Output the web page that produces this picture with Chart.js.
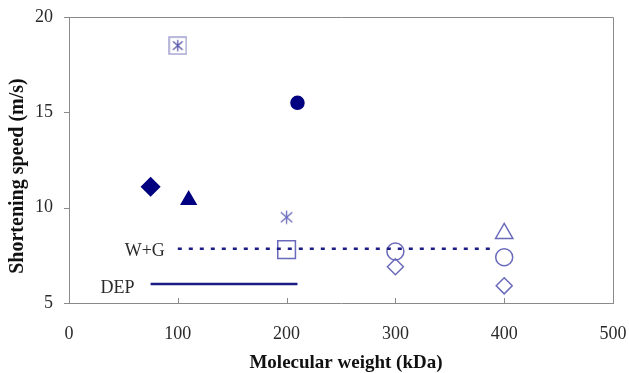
<!DOCTYPE html>
<html>
<head>
<meta charset="utf-8">
<script src="https://cdn.jsdelivr.net/npm/chart.js@4/dist/chart.umd.min.js"></script>
<style>
  html, body { margin: 0; padding: 0; background: #fff; }
  #wrap { width: 629px; height: 373px; position: relative; }
</style>
</head>
<body>
<div id="wrap"><canvas id="chart"></canvas></div>
<script>
// values
const weights = [75, 110, 210, 100, 200, 200, 300, 300, 400, 400, 400]   // kDa
const speeds  = [11.1, 10.4, 15.5, 18.5, 9.5, 7.8, 7.7, 6.9, 8.65, 7.4, 5.9] // m/s

const wgRange = [100, 392]
const wgSpeed = 7.85
const depRange = [75, 210]
const depSpeed = 6.0

const xTicks = [0, 100, 200, 300, 400, 500]
const yTicks = [5, 10, 15, 20]

const xTitle = 'Molecular weight (kDa)'
const yTitle = 'Shortening speed (m/s)'

const SERIF = '"Liberation Serif", "Times New Roman", serif'
const NAVY = '#000080'
const LIGHT = '#6a6abb'
const AXIS = '#8a8a8a'

// little custom markers (excel asterisk, and asterisk in a box)
function asteriskMarker(size, color, boxColor) {
  var c = document.createElement('canvas')
  c.width = size; c.height = size
  var g = c.getContext('2d')
  var m = size / 2, a = boxColor ? size * 0.3 : size * 0.45
  if (boxColor) {
    g.strokeStyle = boxColor
    g.lineWidth = 1.5
    g.strokeRect(1, 1, size - 2, size - 2)
  }
  g.strokeStyle = color
  g.lineWidth = 1.3
  g.beginPath()
  g.moveTo(m, m - a); g.lineTo(m, m + a)
  g.moveTo(m - a * 0.85, m - a * 0.75); g.lineTo(m + a * 0.85, m + a * 0.75)
  g.moveTo(m + a * 0.85, m - a * 0.75); g.lineTo(m - a * 0.85, m + a * 0.75)
  g.stroke()
  return c
}

var markerStyles = [
  { pointStyle: 'rectRot', radius: 9, fill: NAVY, border: NAVY },
  { pointStyle: 'triangle', radius: 8.5, fill: NAVY, border: NAVY },
  { pointStyle: 'circle', radius: 6.5, fill: NAVY, border: NAVY },
  { pointStyle: asteriskMarker(19, '#5a5aaa', '#a4a4d2'), radius: 10 },
  { pointStyle: asteriskMarker(15, LIGHT), radius: 8 },
  { pointStyle: 'rect', radius: 12.5, fill: 'rgba(0,0,0,0)', border: LIGHT },
  { pointStyle: 'circle', radius: 8.5, fill: 'rgba(0,0,0,0)', border: LIGHT },
  { pointStyle: 'rectRot', radius: 8, fill: 'rgba(0,0,0,0)', border: LIGHT },
  { pointStyle: 'triangle', radius: 10, fill: 'rgba(0,0,0,0)', border: LIGHT },
  { pointStyle: 'circle', radius: 8.5, fill: 'rgba(0,0,0,0)', border: LIGHT },
  { pointStyle: 'rectRot', radius: 8, fill: 'rgba(0,0,0,0)', border: LIGHT },
]

var datasets = weights.map((w, i) => {
  var s = markerStyles[i]
  return {
    label: 'p' + i,
    data: [{ x: w, y: speeds[i] }],
    pointStyle: s.pointStyle,
    pointRadius: s.radius,
    pointBackgroundColor: s.fill || LIGHT,
    pointBorderColor: s.border || LIGHT,
    pointBorderWidth: 1.5,
    showLine: false,
  }
})

datasets.unshift({
  label: 'W+G',
  data: [{ x: wgRange[0], y: wgSpeed }, { x: wgRange[1], y: wgSpeed }],
  showLine: true,
  borderColor: '#1c1c86',
  borderWidth: 2.5,
  borderDash: [4, 7],
  pointRadius: 0,
})
datasets.unshift({
  label: 'DEP',
  data: [{ x: depRange[0], y: depSpeed }, { x: depRange[1], y: depSpeed }],
  showLine: true,
  borderColor: '#1c1c86',
  borderWidth: 2.5,
  pointRadius: 0,
})

// frame, tick marks, line labels and axis titles
const decorations = {
  id: 'decorations',
  beforeDatasetsDraw(chart) {
    var ctx = chart.ctx, a = chart.chartArea
    var xs = chart.scales.x, ys = chart.scales.y
    ctx.save()
    ctx.strokeStyle = AXIS
    ctx.lineWidth = 1
    ctx.beginPath()
    ctx.moveTo(a.left, a.top + 0.5); ctx.lineTo(a.right + 0.5, a.top + 0.5)
    ctx.lineTo(a.right + 0.5, a.bottom)
    // x ticks point inward
    xTicks.slice(1, -1).forEach((t) => {
      var px = Math.round(xs.getPixelForValue(t)) + 0.5
      ctx.moveTo(px, a.bottom); ctx.lineTo(px, a.bottom - 5)
    })
    // y ticks point outward
    yTicks.forEach((t) => {
      var py = Math.round(ys.getPixelForValue(t)) + 0.5
      ctx.moveTo(a.left, py); ctx.lineTo(a.left - 5, py)
    })
    ctx.stroke()
    ctx.restore()
  },
  afterDraw(chart) {
    var ctx = chart.ctx, a = chart.chartArea
    var xs = chart.scales.x, ys = chart.scales.y
    ctx.save()
    ctx.fillStyle = '#2a2a2a'
    ctx.font = '18px ' + SERIF
    ctx.textAlign = 'right'
    ctx.textBaseline = 'middle'
    ctx.fillText('W+G', xs.getPixelForValue(wgRange[0]) - 13, ys.getPixelForValue(wgSpeed) + 3)
    ctx.fillText('DEP', xs.getPixelForValue(depRange[0]) - 16, ys.getPixelForValue(depSpeed) + 4)

    ctx.fillStyle = '#111'
    ctx.font = 'bold 19px ' + SERIF
    ctx.textAlign = 'center'
    ctx.textBaseline = 'alphabetic'
    ctx.fillText(xTitle, (a.left + a.right) / 2 + 5, 368)

    ctx.translate(18, (a.top + a.bottom) / 2 + 16)
    ctx.rotate(-Math.PI / 2)
    ctx.font = 'bold 20px ' + SERIF
    ctx.textBaseline = 'middle'
    ctx.fillText(yTitle, 0, 0)
    ctx.restore()
  }
}

document.addEventListener('DOMContentLoaded', () => {
  var chart = new Chart(document.getElementById('chart'), {
    type: 'scatter',
    data: { datasets: datasets },
    plugins: [decorations],
    options: {
      responsive: true,
      maintainAspectRatio: false,
      animation: false,
      layout: { padding: { top: 17, right: 16, left: 0, bottom: 0 } },
      plugins: {
        legend: { display: false },
        tooltip: { enabled: false },
      },
      scales: {
        x: {
          type: 'linear',
          min: 0,
          max: 500,
          afterBuildTicks: (scale) => { scale.ticks = xTicks.map((v) => ({ value: v })) },
          afterFit: (scale) => { scale.height = 70 },
          // invisible tick length just pushes the labels down
          grid: { drawOnChartArea: false, drawTicks: true, tickLength: 20, tickColor: 'rgba(0,0,0,0)' },
          border: { color: AXIS, width: 1 },
          ticks: { color: '#2a2a2a', padding: 0, font: { family: SERIF, size: 18 } },
        },
        y: {
          type: 'linear',
          min: 5,
          max: 20,
          afterBuildTicks: (scale) => { scale.ticks = yTicks.map((v) => ({ value: v })) },
          afterFit: (scale) => { scale.width = 69 },
          grid: { drawOnChartArea: false, drawTicks: true, tickLength: 16, tickColor: 'rgba(0,0,0,0)' },
          border: { color: AXIS, width: 1 },
          ticks: { color: '#2a2a2a', padding: 0, font: { family: SERIF, size: 18 } },
        },
      },
    },
  })
})
</script>
</body>
</html>
